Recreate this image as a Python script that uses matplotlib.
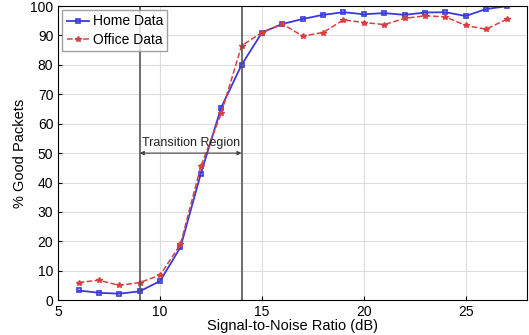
import numpy as np
import matplotlib
matplotlib.use("Agg")
import matplotlib.pyplot as plt

plt.rcParams['font.family'] = ['Liberation Sans', 'DejaVu Sans']

snr = [6, 7, 8, 9, 10, 11, 12, 13, 14, 15, 16, 17, 18, 19, 20, 21, 22, 23, 24, 25, 26, 27]
home = [3.3, 2.5, 2.2, 3.0, 6.5, 18, 43, 65.5, 80, 91, 93.9, 95.6, 97, 97.9, 97.2, 97.6,
        97, 97.8, 97.9, 96.6, 99, 99.9]
office = [6, 6.8, 5, 6, 8.5, 19, 45.5, 63.5, 86.5, 91, 93.9, 89.8, 91, 95.3, 94.4, 93.7,
          95.8, 96.7, 96.3, 93.4, 92.1, 95.5]
region = [9, 14]

fig = plt.figure(figsize=(5.29, 3.35), dpi=100)
ax = fig.add_axes([0.110, 0.104, 0.886, 0.878])

ax.plot(snr, home, '-s', color='#3a3adc', lw=1.3, ms=3.5, mfc='none', mew=1.2, label='Home Data')
ax.plot(snr, office, '--*', color='#d84040', lw=1.1, ms=4, label='Office Data')

for xv in region:
    ax.axvline(xv, color='#555555', lw=1.2)
ax.annotate('', xy=(region[0], 50), xytext=(region[1], 50),
            arrowprops=dict(arrowstyle='<|-|>', color='#444444', lw=0.8,
                            mutation_scale=6, shrinkA=0, shrinkB=0))
ax.text(np.mean(region), 53.5, 'Transition Region', ha='center', va='center', fontsize=9, color='#222222')

ax.set_xlim(5, 28)
ax.set_ylim(0, 100)
ax.set_xticks([5, 10, 15, 20, 25])
ax.set_yticks(range(0, 101, 10))
ax.grid(True, color='#dddddd', lw=0.8)
ax.tick_params(labelsize=10, direction='in', length=3)
ax.set_xlabel('Signal-to-Noise Ratio (dB)', fontsize=10.5, labelpad=0)
ax.set_ylabel('% Good Packets', fontsize=10.5, labelpad=2)
ax.legend(loc='upper left', fontsize=10, fancybox=False, edgecolor='#888888',
          handlelength=1.6, handletextpad=0.3, borderpad=0.3, labelspacing=0.3,
          borderaxespad=0.3)

fig.savefig('out.png', dpi=100)
